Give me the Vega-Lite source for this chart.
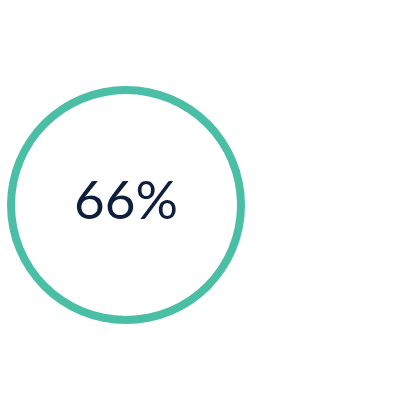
{
  "$schema": "https://vega.github.io/schema/vega-lite/v6.json",
  "width": 252,
  "height": 410,
  "padding": 0,
  "autosize": {"type": "none"},
  "background": "white",
  "config": {"view": {"stroke": null}},
  "data": {"values": [{"value": 0.66}]},
  "layer": [
    {
      "mark": {"type": "arc", "innerRadius": 111, "outerRadius": 119, "color": "#4BBFA5"},
      "encoding": {"theta": {"field": "value", "type": "quantitative"}}
    },
    {
      "mark": {"type": "text", "font": "Lato", "fontWeight": 400, "fontSize": 53, "color": "#0D1F3C", "align": "center", "baseline": "middle", "dy": -2},
      "encoding": {"text": {"field": "value", "type": "quantitative", "format": ".0%"}}
    }
  ]
}
